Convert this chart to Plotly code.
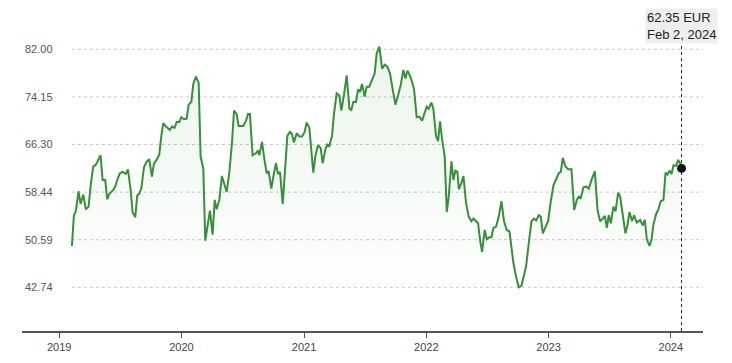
import pandas as pd
import plotly.graph_objects as go

t_years = [
    0.104, 0.120, 0.137, 0.158, 0.175, 0.197, 0.218, 0.240, 0.257, 0.278,
    0.300, 0.322, 0.338, 0.355, 0.376, 0.393, 0.409, 0.442, 0.458, 0.475,
    0.496, 0.518, 0.545, 0.562, 0.584, 0.600, 0.622, 0.638, 0.654, 0.671,
    0.693, 0.714, 0.736, 0.758, 0.774, 0.796, 0.818, 0.834, 0.851, 0.873,
    0.905, 0.922, 0.943, 0.960, 0.982, 0.998, 1.020, 1.042, 1.058, 1.080,
    1.096, 1.118, 1.140, 1.156, 1.178, 1.194, 1.216, 1.232, 1.254, 1.271,
    1.287, 1.309, 1.330, 1.369, 1.390, 1.412, 1.429, 1.450, 1.467, 1.505,
    1.527, 1.543, 1.559, 1.581, 1.608, 1.625, 1.636, 1.658, 1.674, 1.696,
    1.712, 1.734, 1.750, 1.772, 1.788, 1.805, 1.827, 1.865, 1.886, 1.903,
    1.919, 1.941, 1.963, 1.985, 2.006, 2.023, 2.045, 2.061, 2.077, 2.094,
    2.115, 2.137, 2.154, 2.175, 2.192, 2.208, 2.230, 2.246, 2.268, 2.290,
    2.306, 2.328, 2.350, 2.372, 2.388, 2.404, 2.426, 2.443, 2.459, 2.475,
    2.497, 2.513, 2.535, 2.557, 2.579, 2.595, 2.617, 2.639, 2.661, 2.682,
    2.704, 2.726, 2.748, 2.770, 2.791, 2.813, 2.830, 2.846, 2.868, 2.884,
    2.900, 2.922, 2.944, 2.966, 2.982, 3.004, 3.020, 3.042, 3.058, 3.080,
    3.097, 3.113, 3.129, 3.151, 3.168, 3.184, 3.206, 3.222, 3.238, 3.255,
    3.266, 3.287, 3.304, 3.326, 3.347, 3.369, 3.386, 3.407, 3.424, 3.440,
    3.456, 3.478, 3.495, 3.516, 3.533, 3.549, 3.571, 3.593, 3.615, 3.636,
    3.658, 3.680, 3.696, 3.713, 3.734, 3.756, 3.778, 3.794, 3.816, 3.838,
    3.860, 3.882, 3.898, 3.920, 3.936, 3.953, 3.974, 3.996, 4.018, 4.040,
    4.062, 4.083, 4.100, 4.116, 4.138, 4.160, 4.187, 4.209, 4.231, 4.247,
    4.263, 4.285, 4.307, 4.329, 4.351, 4.378, 4.400, 4.421, 4.443, 4.460,
    4.476, 4.492, 4.509, 4.530, 4.547, 4.569, 4.585, 4.607, 4.628, 4.645,
    4.661, 4.683, 4.699, 4.721, 4.748, 4.770, 4.787, 4.803, 4.825, 4.841,
    4.857, 4.879, 4.896, 4.917, 4.939, 4.956, 4.972, 4.988, 5.005, 5.021,
    5.043, 5.059, 5.076, 5.088,
]
price = [
    49.56, 54.51, 55.40, 58.58, 56.50, 58.03, 55.60, 56.05, 59.46, 62.65,
    62.98, 63.86, 64.52, 60.45, 60.45, 57.26, 58.14, 58.80, 59.35, 60.45,
    61.55, 61.77, 61.44, 62.20, 58.80, 55.17, 54.30, 57.92, 58.14, 59.02,
    62.54, 63.42, 63.86, 61.00, 63.09, 63.75, 64.63, 67.60, 69.80, 69.25,
    68.70, 69.25, 69.03, 70.01, 70.01, 70.79, 70.46, 70.57, 72.87, 73.31,
    76.28, 77.49, 76.50, 64.30, 62.32, 50.44, 53.63, 55.39, 51.43, 57.15,
    55.61, 57.15, 61.11, 58.47, 61.55, 66.50, 71.88, 71.33, 69.36, 69.36,
    70.24, 71.33, 71.33, 64.52, 64.85, 65.29, 64.52, 66.72, 64.30, 61.55,
    61.88, 59.02, 61.00, 63.20, 61.44, 61.77, 56.50, 67.71, 68.37, 68.04,
    66.61, 68.15, 67.60, 67.60, 68.37, 69.91, 69.03, 64.85, 61.66, 64.41,
    66.17, 65.73, 63.20, 65.51, 66.28, 66.06, 67.71, 71.33, 74.74, 74.41,
    71.88, 74.52, 77.71, 72.21, 71.99, 73.31, 73.31, 75.40, 74.96, 76.28,
    74.19, 75.84, 75.84, 76.94, 78.04, 81.34, 82.44, 78.81, 79.47, 79.14,
    78.04, 75.40, 72.87, 74.41, 76.06, 78.59, 77.16, 78.48, 77.60, 76.61,
    75.51, 70.79, 70.90, 70.24, 71.12, 72.54, 72.21, 73.20, 72.21, 67.71,
    66.83, 70.13, 67.27, 64.30, 55.17, 57.70, 63.53, 60.45, 61.99, 61.77,
    58.91, 59.90, 61.11, 56.60, 54.40, 53.63, 54.07, 53.63, 53.30, 50.55,
    48.58, 52.20, 50.66, 51.00, 51.00, 52.53, 52.75, 54.40, 56.93, 53.63,
    52.20, 51.98, 49.45, 46.70, 44.50, 42.75, 42.97, 44.50, 46.16, 50.00,
    53.63, 54.07, 53.74, 54.62, 54.40, 51.65, 52.75, 53.63, 56.93, 59.57,
    60.56, 61.55, 61.77, 64.08, 62.65, 62.21, 62.21, 55.50, 57.15, 57.70,
    57.48, 59.24, 59.35, 59.02, 60.45, 61.88, 55.50, 53.63, 54.07, 54.51,
    52.53, 54.62, 53.30, 56.05, 55.28, 58.36, 57.70, 54.95, 51.65, 52.97,
    55.17, 53.63, 54.62, 53.41, 53.85, 52.97, 53.85, 50.66, 49.56, 50.55,
    53.08, 54.84, 55.50, 56.93, 57.15, 61.66, 61.33, 61.99, 61.44, 62.87,
    62.76, 63.75, 63.20, 62.35,
]
y_ticks = [42.74, 50.59, 58.44, 66.30, 74.15, 82.00]
last_date = "2024-02-02"
last_price = 62.35
currency = "EUR"
last_label = "Feb 2, 2024"

base = pd.Timestamp("2019-01-01")
dates = [base + pd.Timedelta(days=t * 365.25) for t in t_years]
dates[-1] = pd.Timestamp(last_date)

x_range = ["2018-09-12", "2024-04-06"]
y_range = [35.53, 88.48]
green = "#36903a"

fig = go.Figure()
fig.add_trace(go.Scatter(
    x=dates, y=price, mode="lines",
    line=dict(color=green, width=2),
    fill="tozeroy",
    fillgradient=dict(type="vertical",
                      colorscale=[[0, "rgba(54,144,58,0.0)"], [1, "rgba(54,144,58,0.09)"]],
                      start=40, stop=80),
    hoverinfo="skip", showlegend=False,
))
fig.add_trace(go.Scatter(
    x=[pd.Timestamp(last_date)], y=[last_price], mode="markers",
    marker=dict(color="#111111", size=9),
    hoverinfo="skip", showlegend=False,
))

shapes = []
for v in y_ticks:
    shapes.append(dict(type="line", xref="x", yref="y",
                       x0=dates[0], x1=x_range[1], y0=v, y1=v,
                       line=dict(color="#c8c8c8", width=1, dash="dot"), layer="below"))
shapes.append(dict(type="line", xref="x", yref="paper",
                   x0=last_date, x1=last_date, y0=0, y1=0.906,
                   line=dict(color="#222222", width=1, dash="dot")))
fig.update_layout(shapes=shapes)

fig.add_annotation(
    x=last_date, xref="x", y=1.006, yref="paper",
    xanchor="center", yanchor="top",
    text=f"{last_price:.2f} {currency}<br>{last_label}",
    showarrow=False, align="left",
    font=dict(family="Liberation Sans, Arial, sans-serif", size=13, color="#222222"),
    bgcolor="#eeeeee", borderpad=1,
)

fig.update_layout(
    width=724, height=355,
    margin=dict(l=14, r=29, t=2, b=32),
    paper_bgcolor="white", plot_bgcolor="white",
    font=dict(family="Liberation Sans, Arial, sans-serif", size=11, color="#555555"),
    xaxis=dict(
        range=x_range, type="date",
        tickvals=["2019-01-01", "2020-01-01", "2021-01-01", "2022-01-01", "2023-01-01", "2024-01-01"],
        tickformat="%Y",
        showgrid=False, zeroline=False,
        showline=True, linecolor="#555555", linewidth=2,
        ticks="outside", ticklen=5, tickcolor="#555555", tickwidth=1,
        tickfont=dict(size=11, color="#444444"),
    ),
    yaxis=dict(
        range=y_range,
        tickvals=y_ticks, ticktext=[f"{v:.2f}" for v in y_ticks],
        ticklabelposition="inside", ticks="",
        showgrid=False, zeroline=False, showline=False,
        tickfont=dict(size=11, color="#555555"),
    ),
)

fig.write_html("out.html")
